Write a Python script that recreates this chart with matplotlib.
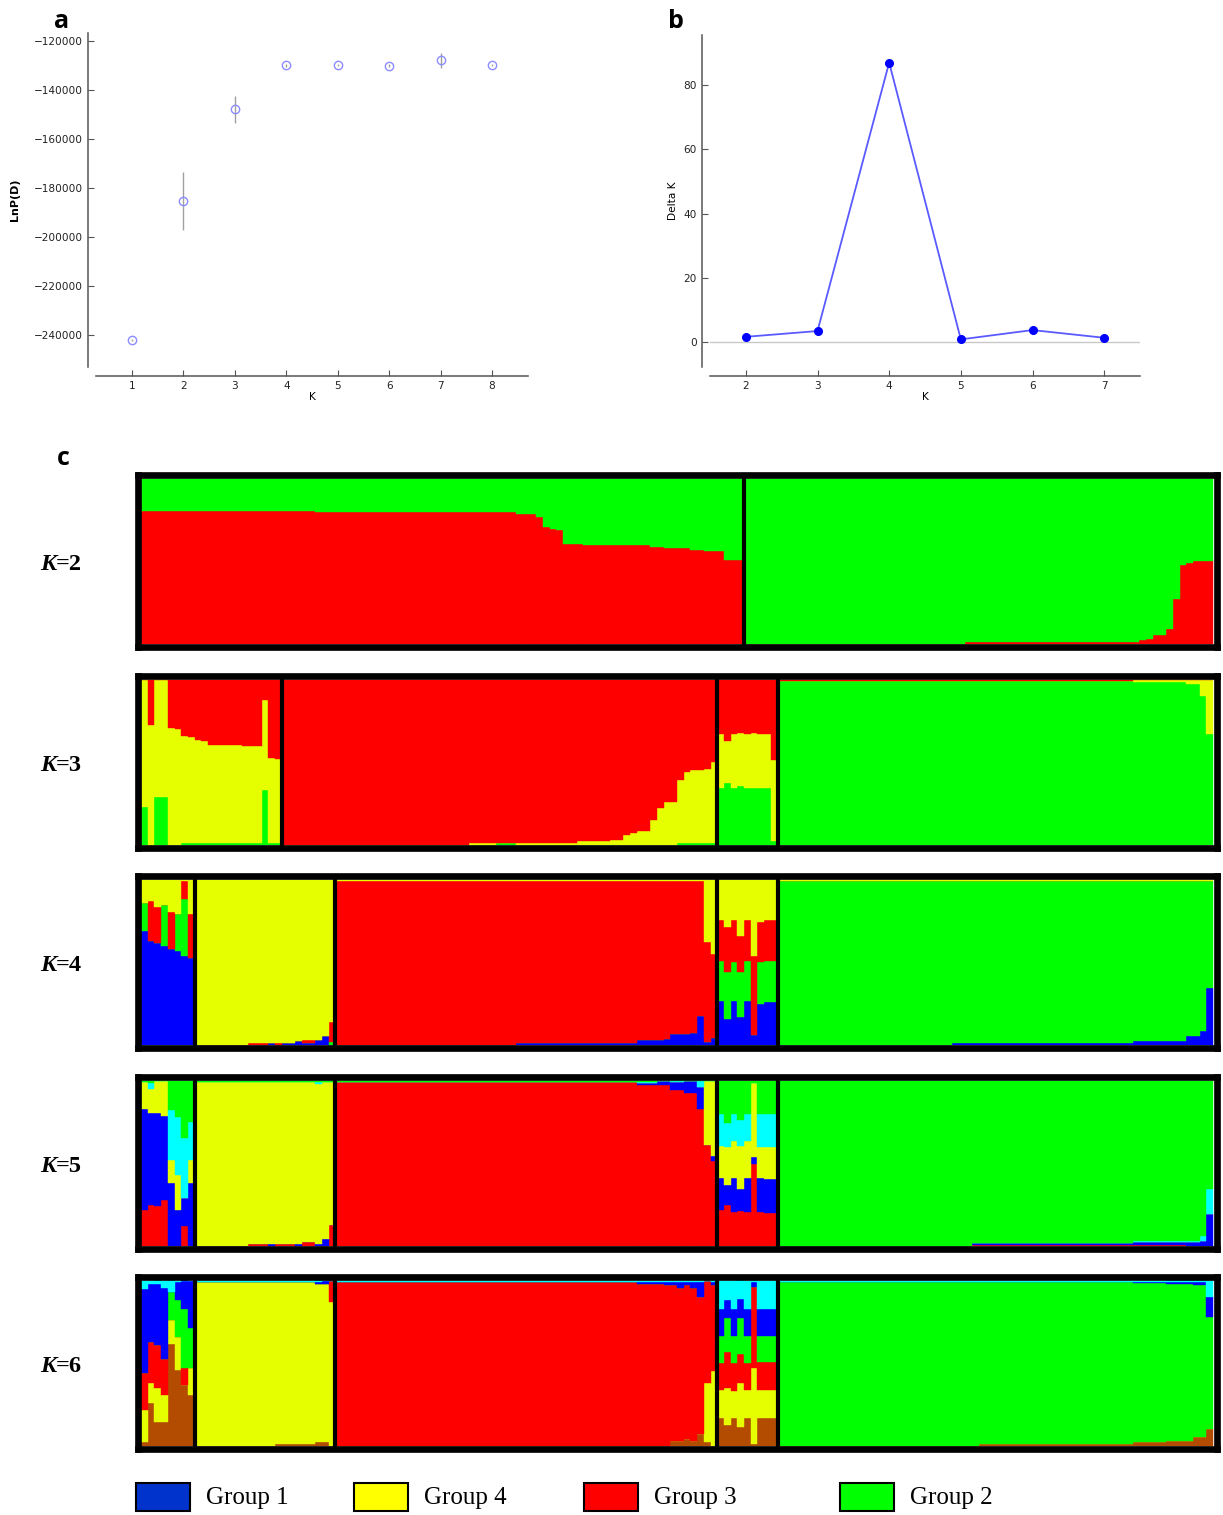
import numpy as np
import matplotlib.pyplot as plt
from matplotlib.patches import Rectangle

W, H = 1223, 1515

# ---- panel a: mean LnP(D) per K (with sd)
K_A = [1, 2, 3, 4, 5, 6, 7, 8]
LNPD = [-241900, -185200, -147900, -129800, -129800, -130100, -127900, -129800]
LNPD_SD = [300, 11900, 5450, 600, 500, 600, 2950, 500]

# ---- panel b: Evanno delta K
K_B = [2, 3, 4, 5, 6, 7]
DELTA_K = [1.6, 3.4, 87.0, 0.8, 3.7, 1.3]

# ---- panel c: STRUCTURE membership, runs of identical bars
# each run: (number of individuals, q for each cluster bottom -> top)
RED, GREEN, YELLOW = '#ff0000', '#00ff00', '#e5ff00'
BLUE, CYAN, BROWN = '#0000ff', '#00ffff', '#b34c00'

K2_COLORS = [RED, GREEN]
K2_RUNS = [
    (26, .806, .194), (30, .796, .204), (3, .786, .214), (1, .766, .234),
    (1, .705, .295), (1, .695, .305), (1, .685, .315), (3, .606, .394),
    (10, .596, .404), (2, .586, .414), (4, .576, .424), (2, .566, .434),
    (3, .558, .442), (3, .507, .493),
    (33, 0, 1), (26, .01, .99), (1, .02, .98), (1, .03, .97), (2, .05, .95),
    (1, .09, .91), (1, .27, .73), (1, .475, .525), (1, .485, .515), (3, .497, .503),
]
K2_SEPS = [90]

K3_COLORS = [GREEN, YELLOW, RED]
K3_RUNS = [
    (1, .226, .774, 0), (1, 0, .727, .273), (2, .287, .713, 0), (1, 0, .707, .293),
    (1, 0, .697, .303), (1, .01, .647, .343), (1, .01, .64, .35), (1, .01, .626, .364),
    (1, .01, .616, .374), (5, .01, .596, .394), (3, .01, .586, .404),
    (1, .333, .542, .125), (1, .01, .515, .475), (1, .01, .509, .481),
    (28, 0, 0, 1), (4, 0, .01, .99), (3, .01, 0, .99), (9, 0, .01, .99),
    (5, 0, .02, .98), (2, 0, .03, .97), (1, 0, .06, .94), (1, 0, .07, .93),
    (2, 0, .08, .92), (1, 0, .15, .85), (1, 0, .22, .78), (2, 0, .26, .74),
    (1, .01, .38, .61), (1, .01, .43, .56), (2, .01, .44, .55), (1, .01, .45, .54),
    (1, .01, .49, .50),
    (1, .34, .327, .333), (1, .374, .252, .374), (1, .34, .327, .333),
    (1, .352, .325, .323), (1, .34, .327, .333), (1, .34, .337, .323),
    (2, .34, .327, .333), (1, .024, .487, .489),
    (53, .99, 0, .01), (8, .985, .01, .005), (2, .97, .03, 0), (1, .9, .1, 0),
    (1, .67, .33, 0),
]
K3_SEPS = [21, 86, 95]

K4_COLORS = [BLUE, GREEN, RED, YELLOW]
K4_RUNS = [
    (1, .689, .171, 0, .14), (1, .629, 0, .241, .131), (1, .618, 0, .215, .167),
    (1, .598, .245, 0, .157), (1, .578, 0, .225, .197), (1, .568, .225, 0, .207),
    (1, .538, .341, .11, .011), (1, .522, 0, .271, .207),
    (8, 0, 0, 0, 1), (3, 0, 0, .012, .988), (1, .012, 0, 0, .988),
    (1, 0, 0, .012, .988), (2, .012, 0, 0, .988), (1, .02, 0, 0, .98),
    (2, .01, 0, .015, .975), (1, .03, 0, 0, .97), (1, .05, 0, 0, .95),
    (1, 0, .016, .12, .864),
    (27, 0, 0, .99, .01), (18, .01, 0, .98, .01), (4, .026, 0, .964, .01),
    (1, .036, 0, .954, .01), (3, .062, 0, .928, .01), (1, .07, 0, .92, .01),
    (1, .17, 0, .82, .01), (1, .016, 0, .604, .38), (1, .042, 0, .506, .452),
    (1, .261, .247, .247, .245), (1, .157, .285, .273, .285),
    (1, .261, .237, .257, .245), (1, .167, .271, .221, .341),
    (1, .261, .247, .247, .245), (1, .056, 0, .482, .462),
    (1, .247, .251, .247, .255), (2, .257, .251, .247, .245),
    (26, 0, .99, 0, .01), (27, .01, .98, 0, .01), (8, .02, .97, 0, .01),
    (2, .05, .94, 0, .01), (1, .08, .91, 0, .01), (1, .34, .65, 0, .01),
]
K4_SEPS = [8, 29, 86, 95]

K5_COLORS = [RED, BLUE, YELLOW, CYAN, GREEN]
K5_RUNS = [
    (1, .217, .612, .161, 0, .01), (1, .247, .556, .147, .034, .016),
    (1, .237, .566, .197, 0, 0), (1, .277, .506, .217, 0, 0),
    (1, 0, .378, .141, .301, .181), (1, 0, .217, .211, .351, .221),
    (1, .116, .171, 0, .361, .351), (1, 0, .378, .141, .231, .251),
    (8, 0, 0, .992, 0, .008), (3, .012, 0, .98, 0, .008), (1, 0, .012, .98, 0, .008),
    (3, .012, 0, .98, 0, .008), (1, 0, .012, .98, 0, .008), (2, .02, 0, .972, 0, .008),
    (1, 0, .012, .965, .015, .008), (1, 0, .04, .952, 0, .008),
    (1, .127, 0, .865, 0, .008),
    (45, .992, 0, 0, 0, .008), (3, .975, .01, 0, .005, .01), (2, .97, .025, 0, 0, .005),
    (2, .94, .05, 0, .01, 0), (2, .925, .07, 0, .005, 0), (1, .83, .13, 0, .04, 0),
    (1, .61, 0, .39, 0, 0), (1, .51, .03, .46, 0, 0),
    (1, .217, .191, .195, .197, .201), (1, .247, .12, .227, .149, .257),
    (1, .201, .207, .223, .169, .201), (1, .207, .135, .261, .161, .237),
    (1, .201, .207, .223, .169, .201), (1, .494, .04, .45, 0, .016),
    (1, .201, .207, .187, .205, .201), (2, .197, .205, .193, .205, .201),
    (29, 0, 0, 0, 0, 1), (24, .005, .01, 0, 0, .985), (8, .005, .015, 0, .005, .975),
    (2, 0, .02, 0, .01, .97), (1, 0, .03, 0, .03, .94), (1, 0, .19, 0, .15, .66),
]
K5_SEPS = [8, 29, 86, 95]

K6_COLORS = [BROWN, YELLOW, RED, GREEN, BLUE, CYAN]
K6_RUNS = [
    (1, .022, .191, .225, 0, .504, .054), (1, .259, .118, .247, 0, .351, .02),
    (1, .143, .207, .26, 0, .367, .02), (1, .143, .165, .217, 0, .428, .044),
    (1, .614, .141, 0, .171, 0, .07), (1, .454, .2, 0, .221, .11, .01),
    (1, .367, 0, .1, .357, .17, 0), (1, .307, .161, 0, .241, .287, 0),
    (12, 0, .992, 0, 0, 0, .008), (6, .01, .982, 0, 0, 0, .008),
    (1, .02, .96, 0, 0, .01, .01), (1, .02, .96, 0, 0, .02, 0), (1, 0, .87, .13, 0, 0, 0),
    (45, 0, 0, .992, 0, 0, .008), (4, 0, 0, .977, 0, .015, .008),
    (1, 0, 0, .972, 0, .02, .008), (1, .03, 0, .942, 0, .02, .008),
    (1, .03, 0, .927, 0, .035, .008), (1, .04, 0, .932, 0, .02, .008),
    (1, .03, 0, .927, 0, .035, .008), (1, .07, 0, .827, 0, .095, .008),
    (1, .02, .36, .62, 0, 0, 0), (1, 0, .45, .52, 0, .02, .01),
    (1, .169, .171, .159, .167, .165, .171), (1, .122, .227, .215, .205, .11, .12),
    (1, .169, .161, .169, .167, .165, .171), (1, .112, .267, .175, .215, .12, .11),
    (1, .169, .171, .159, .167, .165, .171), (1, .012, .456, .494, 0, .028, .01),
    (3, .169, .171, .165, .161, .165, .171),
    (30, 0, 0, 0, .992, 0, .008), (23, .01, 0, 0, .982, 0, .008),
    (5, .02, 0, 0, .962, .01, .008), (4, .03, 0, 0, .95, .01, .01),
    (2, .05, 0, 0, .92, .02, .01), (1, .1, 0, 0, .68, .12, .1),
]
K6_SEPS = [8, 29, 86, 95]

ROWS = [('2', K2_COLORS, K2_RUNS, K2_SEPS), ('3', K3_COLORS, K3_RUNS, K3_SEPS),
        ('4', K4_COLORS, K4_RUNS, K4_SEPS), ('5', K5_COLORS, K5_RUNS, K5_SEPS),
        ('6', K6_COLORS, K6_RUNS, K6_SEPS)]

LEGEND_LABELS = ['Group 1', 'Group 4', 'Group 3', 'Group 2']
LEGEND_COLORS = ['#0033cc', '#ffff00', '#ff0000', '#00ff00']

fig = plt.figure(figsize=(W / 100, H / 100), dpi=100)

ROW_W, ROW_H = 1079.0, 172.0   # pixel size of each structure axes
BORDER = 3.5                   # half the frame width in px, kept clear of the bars


def px_axes(x0, y0, x1, y1):
	return fig.add_axes([x0 / W, 1 - y1 / H, (x1 - x0) / W, (y1 - y0) / H])


def style_small(ax):
	for s in ['top', 'right']:
		ax.spines[s].set_visible(False)
	# offsets are in points (72 per inch at 100 dpi)
	ax.spines['left'].set_position(('outward', 5.8))
	ax.spines['bottom'].set_position(('outward', 6.5))
	for s in ['left', 'bottom']:
		ax.spines[s].set_color('#555555')
		ax.spines[s].set_linewidth(1.1)
	ax.tick_params(direction='in', length=4, width=0.8, color='#555555',
				   labelsize=7.6, labelcolor='#222222')


def draw_structure(ax, colors, runs, seps):
	data = np.array(runs, dtype=float)
	counts = data[:, 0]
	q = data[:, 1:]
	q = q / q.sum(axis=1, keepdims=True)
	starts = np.concatenate([[0], np.cumsum(counts)[:-1]])
	bottom = np.zeros(len(runs))
	for c, col in enumerate(colors):
		ax.bar(starts, q[:, c], width=counts, bottom=bottom, align='edge',
			   color=col, edgecolor=col, linewidth=0.3)
		bottom += q[:, c]
	for s in seps:
		ax.axvline(s, color='black', lw=3)
	n = counts.sum()
	padx = BORDER / (ROW_W - 2 * BORDER) * n
	pady = BORDER / (ROW_H - 2 * BORDER)
	ax.set_xlim(-padx, n + padx)
	ax.set_ylim(-pady, 1 + pady)
	ax.set_xticks([])
	ax.set_yticks([])
	for sp in ax.spines.values():
		sp.set_linewidth(4.8)
		sp.set_color('black')


# panel a
axa = px_axes(96, 33, 528, 367)
style_small(axa)
axa.errorbar(K_A, LNPD, yerr=LNPD_SD, fmt='o', mfc='none', mec='#8c8cff', mew=1,
			 ms=6, ecolor='#a0a0a0', elinewidth=1, capsize=0)
axa.set_xlim(0.3, 8.7)
axa.set_ylim(-253000, -116700)
axa.set_xticks(K_A)
axa.set_yticks(np.arange(-240000, -119999, 20000))
axa.set_xlabel('K', fontsize=7.6, labelpad=1)
axa.set_ylabel('LnP(D)', fontsize=8, fontweight='bold', labelpad=10)

# panel b
axb = px_axes(710, 35, 1140, 367)
style_small(axb)
axb.axhline(0, color='#c8c8c8', lw=1)
axb.plot(K_B, DELTA_K, '-', color='#5a5aff', lw=1.3)
axb.plot(K_B, DELTA_K, 'o', color='#0000ff', ms=5.5)
axb.set_xlim(1.5, 7.5)
axb.set_ylim(-7.8, 95.6)
axb.set_xticks(K_B)
axb.set_yticks([0, 20, 40, 60, 80])
axb.set_xlabel('K', fontsize=7.6, labelpad=1)
axb.set_ylabel('Delta K', fontsize=7.6, labelpad=4)

# panel c
row_tops = [475, 676, 876, 1077, 1277]
for top, (k, colors, runs, seps) in zip(row_tops, ROWS):
	ax = px_axes(137.5, top, 137.5 + ROW_W, top + ROW_H)
	draw_structure(ax, colors, runs, seps)
	kt = fig.text(40 / W, 1 - (top + 95) / H, 'K', fontsize=17.5, family='Liberation Serif',
				  style='italic', fontweight='bold', va='baseline')
	ax.annotate('=' + k, xy=(1, 0), xycoords=kt, fontsize=17.5, family='Liberation Serif',
				fontweight='bold', va='bottom', ha='left', annotation_clip=False)

# panel labels
for lab, x, y in [('a', 54, 28), ('b', 668, 28), ('c', 57, 465)]:
	fig.text(x / W, 1 - y / H, lab, fontsize=18, fontweight='bold', family='Open Sans')

# legend
legend_x = [136, 354, 584, 840]
for x, lab, col in zip(legend_x, LEGEND_LABELS, LEGEND_COLORS):
	fig.patches.append(Rectangle((x / W, 1 - 1511 / H), 54 / W, 28 / H, transform=fig.transFigure,
								 facecolor=col, edgecolor='black', lw=1.5))
	fig.text((x + 70) / W, 1 - 1498 / H, lab, fontsize=18, family='Liberation Serif', va='center')

fig.savefig('out.png', dpi=100)
